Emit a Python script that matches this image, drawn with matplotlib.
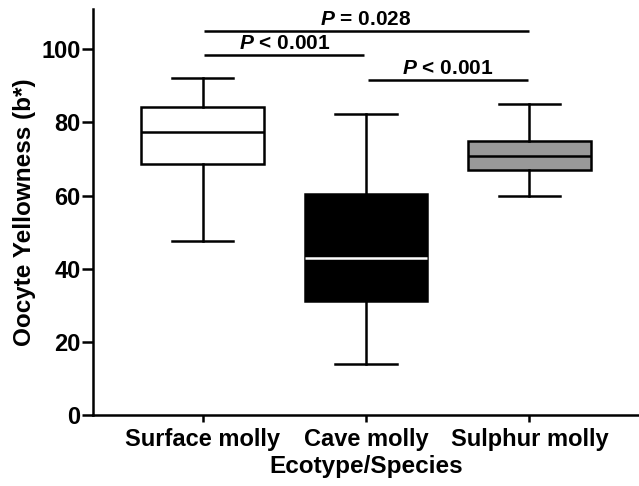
import matplotlib
matplotlib.use('Agg')
import matplotlib.pyplot as plt

groups = ['Surface molly', 'Cave molly', 'Sulphur molly']
whisker_low = [47.7, 13.9, 60.0]
q1 = [68.5, 31.2, 67.1]
medians = [77.5, 43.0, 70.7]
q3 = [84.1, 60.3, 74.8]
whisker_high = [92.0, 82.2, 84.9]
box_colors = ['white', 'black', '#999999']
median_colors = ['black', 'white', 'black']

# pairwise comparisons: (group a, group b, bar height, label)
comparisons = [
    (1, 3, 104.9, '$P$ = 0.028'),
    (1, 2, 98.4, '$P$ < 0.001'),
    (2, 3, 91.5, '$P$ < 0.001'),
]

plt.rcParams['font.family'] = 'Liberation Sans'
plt.rcParams['font.weight'] = 'bold'
plt.rcParams['axes.labelweight'] = 'bold'
plt.rcParams['mathtext.fontset'] = 'custom'
plt.rcParams['mathtext.it'] = 'Liberation Sans:italic:bold'
plt.rcParams['mathtext.rm'] = 'Liberation Sans:bold'

lw = 1.8
fig = plt.figure(figsize=(6.39, 4.86), dpi=100)
ax = fig.add_axes([0.1455, 0.146, 0.8545, 0.8355])

stats = []
for i, g in enumerate(groups):
    stats.append({'label': g, 'whislo': whisker_low[i], 'q1': q1[i], 'med': medians[i],
                  'q3': q3[i], 'whishi': whisker_high[i], 'fliers': []})

bp = ax.bxp(stats, positions=[1, 2, 3], widths=0.75, patch_artist=True, showfliers=False,
            boxprops=dict(linewidth=lw, edgecolor='black'),
            whiskerprops=dict(linewidth=lw, color='black'),
            capprops=dict(linewidth=lw, color='black'),
            medianprops=dict(linewidth=lw))
for patch, c in zip(bp['boxes'], box_colors):
    patch.set_facecolor(c)
for med, c in zip(bp['medians'], median_colors):
    med.set_color(c)

for a, b, h, label in comparisons:
    ax.plot([a + 0.01, b - 0.01 if b - a == 1 else b], [h, h], color='black', lw=lw,
            solid_capstyle='butt', clip_on=False)
    ax.text((a + b) / 2, h + 0.5, label, ha='center', va='bottom', fontsize=15)

ax.set_xlim(0.33, 3.67)
ax.set_ylim(0, 111)
ax.set_yticks([0, 20, 40, 60, 80, 100])
ax.set_xticks([1, 2, 3])
ax.set_xticklabels(groups)
ax.tick_params(axis='y', length=8, width=lw, labelsize=17, pad=1)
ax.tick_params(axis='x', length=5, width=lw, labelsize=17, pad=4)
for s in ['top', 'right']:
    ax.spines[s].set_visible(False)
for s in ['left', 'bottom']:
    ax.spines[s].set_linewidth(lw)

ax.set_ylabel('Oocyte Yellowness (b*)', fontsize=17.5, labelpad=4)
ax.set_xlabel('Ecotype/Species', fontsize=17.5, labelpad=3)

fig.savefig('out.png', dpi=100)
